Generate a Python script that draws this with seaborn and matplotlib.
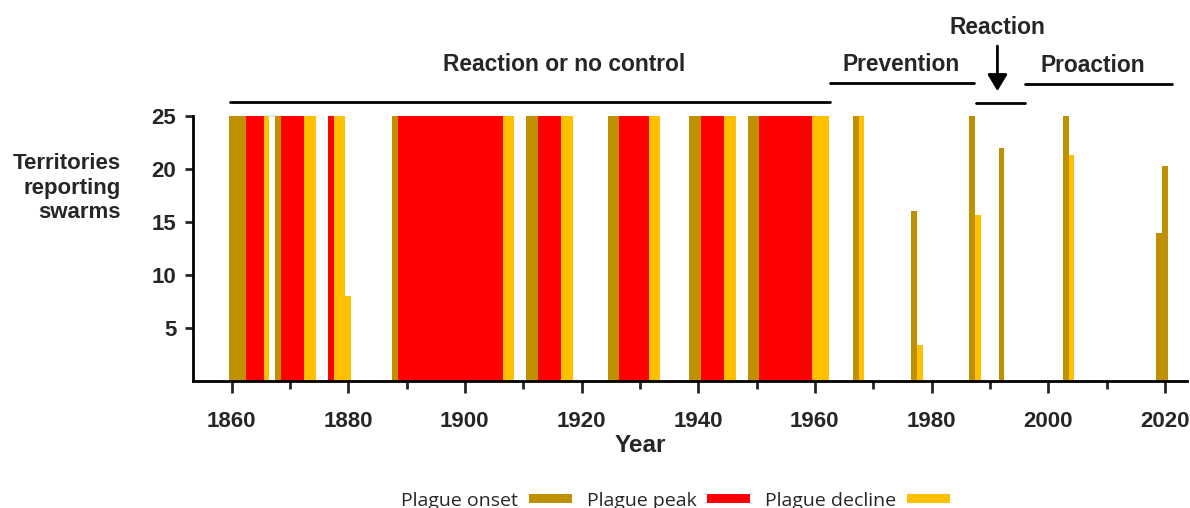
import pandas as pd
import seaborn as sns
from matplotlib import pyplot as plt
from matplotlib.ticker import MultipleLocator

# Plague stages: years and number of territories reporting swarms
onset_years = [1860, 1861, 1862, 1868, 1888, 1911, 1912, 1925, 1926, 1939, 1940,
               1949, 1950, 1967, 1977, 1987, 1992, 2003, 2019, 2020]
onset_counts = [25, 25, 25, 25, 25, 25, 25, 25, 25, 25, 25,
                25, 25, 25, 16, 25, 22, 25, 14, 20.3]

peak_years = [1863, 1864, 1865, 1869, 1870, 1871, 1872, 1877] + list(range(1889, 1907)) + \
             [1913, 1914, 1915, 1916, 1927, 1928, 1929, 1930, 1931,
              1941, 1942, 1943, 1944] + list(range(1951, 1960))
peak_counts = [25] * len(peak_years)

decline_years = [1866, 1873, 1874, 1878, 1879, 1880, 1907, 1908, 1917, 1918, 1932, 1933,
                 1945, 1946, 1960, 1961, 1962, 1968, 1978, 1988, 2004]
decline_counts = [25, 25, 25, 25, 25, 8, 25, 25, 25, 25, 25, 25,
                  25, 25, 25, 25, 25, 25, 3.4, 15.7, 21.3]

stages = ['Plague onset', 'Plague peak', 'Plague decline']
stage_colors = ['#BF9000', '#FF0000', '#FFC000']

# control periods drawn above the bars
periods = ['Reaction or no control', 'Prevention', 'Reaction', 'Proaction']
period_start = [1859.7, 1962.6, 1987.6, 1996.0]
period_end = [1962.6, 1987.2, 1996.1, 2021.2]

df = pd.concat([
    pd.DataFrame({'year': onset_years, 'territories': onset_counts, 'stage': stages[0]}),
    pd.DataFrame({'year': peak_years, 'territories': peak_counts, 'stage': stages[1]}),
    pd.DataFrame({'year': decline_years, 'territories': decline_counts, 'stage': stages[2]}),
])

sns.set_style('white')
plt.rcParams['font.family'] = ['Liberation Sans', 'DejaVu Sans']

fig = plt.figure(figsize=(11.9, 5.08), dpi=100)
ax = fig.add_axes([0.1622, 0.25, 0.8353, 0.5217])

sns.barplot(data=df, x='year', y='territories', hue='stage', hue_order=stages,
            palette=stage_colors, native_scale=True, width=1, dodge=False,
            saturation=1, linewidth=0, errorbar=None, ax=ax)

ax.set_xlim(1853.4, 2023.8)
ax.set_ylim(0, 25)
ax.set_xticks(range(1860, 2021, 20))
ax.xaxis.set_minor_locator(MultipleLocator(10))
ax.set_yticks([5, 10, 15, 20, 25])
sns.despine(ax=ax)
for side in ['left', 'bottom']:
    ax.spines[side].set_linewidth(2)
    ax.spines[side].set_color('black')

ax.tick_params(axis='x', which='major', length=8.6, width=2, pad=13, labelsize=16, bottom=True)
ax.tick_params(axis='x', which='minor', length=5.5, width=2, bottom=True)
ax.tick_params(axis='y', length=6, width=2, pad=6, labelsize=16, left=True)
for lbl in ax.get_xticklabels() + ax.get_yticklabels():
    lbl.set_fontweight('bold')

ax.set_xlabel('Year', fontsize=17.5, fontweight='bold')
ax.xaxis.set_label_coords(0.45, -0.245)
ax.xaxis.label.set_va('center')
ax.set_ylabel('Territories\nreporting\nswarms', fontsize=16, fontweight='bold',
              rotation=0, ha='right', va='center', multialignment='right', linespacing=1.2)
ax.yaxis.set_label_coords(-0.0727, 0.728)

# period lines and labels
trans = ax.get_xaxis_transform()
line_y = [1.0528, 1.1226, 1.049, 1.1196]
text_x = [1917.0, 1974.8, 1991.3, 2007.6]
text_y = [1.196, 1.194, 1.332, 1.192]
for name, x0, x1, ly, tx, ty in zip(periods, period_start, period_end, line_y, text_x, text_y):
    ax.plot([x0, x1], [ly, ly], color='black', lw=2, transform=trans, clip_on=False)
    ax.text(tx, ty, name, transform=trans, ha='center', va='center',
            fontsize=16.4, fontweight='bold')
ax.annotate('', xy=(1991.3, 1.094), xytext=(1991.3, 1.264), xycoords=trans,
            arrowprops=dict(arrowstyle='-|>,head_length=0.5,head_width=0.3', lw=2,
                            color='black', mutation_scale=20, shrinkA=0, shrinkB=0))

# legend with patches after the text
sns.move_legend(ax, 'center', bbox_to_anchor=(0.4854, -0.451), ncol=3, frameon=False,
                title=None, markerfirst=False, handlelength=2.2, handleheight=0.36,
                handletextpad=0.55, columnspacing=0.78,
                prop={'family': ['Open Sans', 'DejaVu Sans'], 'size': 14})

plt.savefig('out.png', dpi=100)
